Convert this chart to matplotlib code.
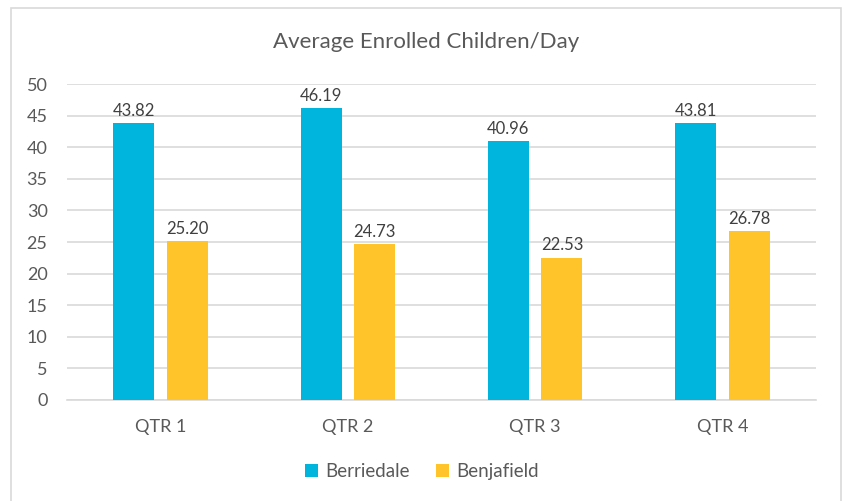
import matplotlib.pyplot as plt
import numpy as np
from matplotlib.patches import Rectangle

# Chart data
quarters = ['QTR 1', 'QTR 2', 'QTR 3', 'QTR 4']
berriedale = [43.82, 46.19, 40.96, 43.81]
benjafield = [25.20, 24.73, 22.53, 26.78]

blue = '#00B5DD'
yellow = '#FFC42A'
text_col = '#595959'
grid_col = '#D9D9D9'

plt.rcParams['font.family'] = ['Lato', 'DejaVu Sans']

fig = plt.figure(figsize=(8.44, 5.01), dpi=100)
ax = fig.add_axes([0.0794, 0.2016, 0.8874, 0.6307])

x = np.arange(len(quarters))
w = 0.22
off = 0.143
b1 = ax.bar(x - off, berriedale, w, color=blue, label='Berriedale', zorder=3)
b2 = ax.bar(x + off, benjafield, w, color=yellow, label='Benjafield', zorder=3)

# value labels
for bars in (b1, b2):
    for r in bars:
        ax.annotate(f'{r.get_height():.2f}', (r.get_x() + r.get_width() / 2, r.get_height()),
                    xytext=(0, 3), textcoords='offset points', ha='center', va='bottom',
                    fontsize=12, color='#404040')

ax.set_xlim(-0.5, 3.5)
ax.set_ylim(0, 50)
ax.set_yticks(range(0, 51, 5))
ax.set_xticks(x)
ax.set_xticklabels(quarters)
ax.yaxis.grid(True, color=grid_col, linewidth=1.2, zorder=0)
ax.tick_params(axis='both', length=0, labelsize=13, colors=text_col)
ax.tick_params(axis='x', pad=14)
ax.tick_params(axis='y', pad=14)
for s in ['top', 'right', 'left']:
    ax.spines[s].set_visible(False)
ax.spines['bottom'].set_color(grid_col)
ax.spines['bottom'].set_linewidth(1.2)

fig.text(0.505, 0.916, 'Average Enrolled Children/Day', ha='center', va='center',
         fontsize=16, color=text_col)

fig.legend(handles=[b1, b2], loc='center', bbox_to_anchor=(0.5, 0.058), ncol=2,
           frameon=False, fontsize=13.5, labelcolor=text_col, handlelength=0.7,
           handleheight=0.7, handletextpad=0.4, columnspacing=1.4)

# chart border
fig.patches.append(Rectangle((11 / 844, -0.05), 830 / 844, 1.05 - 8 / 501,
                             transform=fig.transFigure, fill=False,
                             edgecolor=grid_col, linewidth=1.2))

fig.savefig('out.png', dpi=100)
